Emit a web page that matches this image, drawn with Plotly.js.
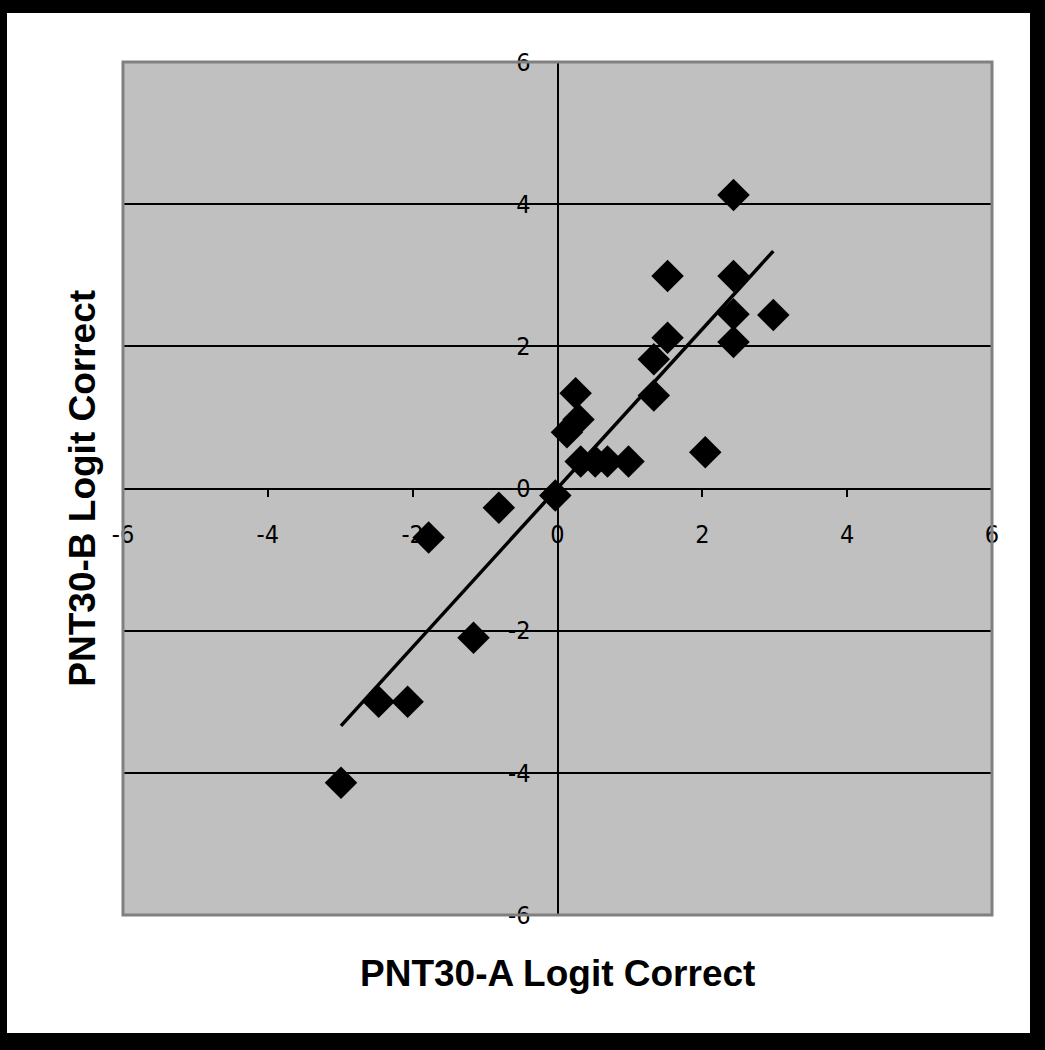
<!DOCTYPE html>
<html>
<head>
<meta charset="utf-8">
<script src="https://cdn.plot.ly/plotly-3.0.1.min.js"></script>
<style>
  html, body { margin: 0; padding: 0; background: #fff; }
  #wrap { position: relative; width: 1045px; height: 1050px; }
  #chart { position: absolute; left: 0; top: 0; width: 1045px; height: 1050px; }
  #frame { position: absolute; left: 0; top: 0; width: 1045px; height: 1050px; box-sizing: border-box;
           border-style: solid; border-color: #000; border-width: 13px 15px 17px 7px; pointer-events: none; }
</style>
</head>
<body>
<div id="wrap">
  <div id="chart"></div>
  <div id="frame"></div>
</div>
<script>
// PNT30-A vs PNT30-B logit correct
const pntA = [2.43, 1.52, 2.43, 2.43, 2.98, 2.43, 1.52, 1.33, 1.33, 0.25, 0.29, 0.13, 0.32, 0.52, 0.69, 0.98, 2.04, -0.03, -0.81, -1.78, -1.16, -2.47, -2.07, -2.99];
const pntB = [4.13, 2.99, 2.99, 2.45, 2.44, 2.06, 2.12, 1.82, 1.31, 1.34, 0.97, 0.79, 0.38, 0.38, 0.38, 0.38, 0.51, -0.10, -0.27, -0.69, -2.10, -3.00, -3.00, -4.14];

// Linear trend line end points
const trendX = [-2.99, 2.98];
const trendY = [-3.34, 3.34];

const tickValues = [-6, -4, -2, 0, 2, 4, 6];
const tickLabels = ['-6', '-4', '-2', '0', '2', '4', '6'];

const xTitle = 'PNT30-A Logit Correct';
const yTitle = 'PNT30-B Logit Correct';

const tickFont = { family: '"DejaVu Sans Condensed", "Liberation Sans Narrow", Arial, sans-serif', size: 25, color: '#000' };
const titleFont = { family: '"Liberation Sans", Arial, sans-serif', size: 37, color: '#000', weight: 'bold' };

const traces = [
  {
    x: trendX, y: trendY, type: 'scatter', mode: 'lines',
    line: { color: '#000', width: 3.5 }, hoverinfo: 'skip', showlegend: false
  },
  {
    x: pntA, y: pntB, type: 'scatter', mode: 'markers',
    marker: { symbol: 'diamond', size: 25, color: '#000', line: { width: 0 } },
    showlegend: false
  }
];

const layout = {
  width: 1045, height: 1050,
  margin: { l: 123, r: 53, t: 62, b: 135 },
  paper_bgcolor: '#ffffff',
  plot_bgcolor: '#c0c0c0',
  showlegend: false,
  xaxis: {
    range: [-6, 6], tickvals: tickValues, ticktext: tickLabels,
    anchor: 'free', position: 0.5,
    showline: true, linecolor: '#000', linewidth: 2,
    ticks: 'outside', ticklen: 7, tickwidth: 2, tickcolor: '#000',
    showgrid: false, zeroline: false,
    tickfont: tickFont, ticklabelstandoff: 16,
    layer: 'below traces',
    title: { text: '' }
  },
  yaxis: {
    range: [-6, 6], tickvals: tickValues, ticktext: tickLabels,
    anchor: 'free', position: 0.5,
    showline: true, linecolor: '#000', linewidth: 2,
    ticks: 'outside', ticklen: 7, tickwidth: 2, tickcolor: '#000',
    showgrid: true, gridcolor: '#000', gridwidth: 2, zeroline: false,
    tickfont: tickFont, ticklabelstandoff: 14,
    layer: 'below traces',
    title: { text: '' }
  },
  shapes: [
    { type: 'rect', xref: 'paper', yref: 'paper', x0: 0, x1: 1, y0: 0, y1: 1,
      line: { color: '#808080', width: 3 }, fillcolor: 'rgba(0,0,0,0)', layer: 'above' }
  ],
  annotations: [
    { text: '<b>' + xTitle + '</b>', xref: 'paper', yref: 'paper', x: 0.5, y: -0.068,
      xanchor: 'center', yanchor: 'middle', showarrow: false, font: titleFont },
    { text: '<b>' + yTitle + '</b>', xref: 'paper', yref: 'paper', x: -0.047, y: 0.5,
      xanchor: 'center', yanchor: 'middle', textangle: -90, showarrow: false, font: titleFont }
  ]
};

Plotly.newPlot('chart', traces, layout, { displayModeBar: false, staticPlot: true });
</script>
</body>
</html>
